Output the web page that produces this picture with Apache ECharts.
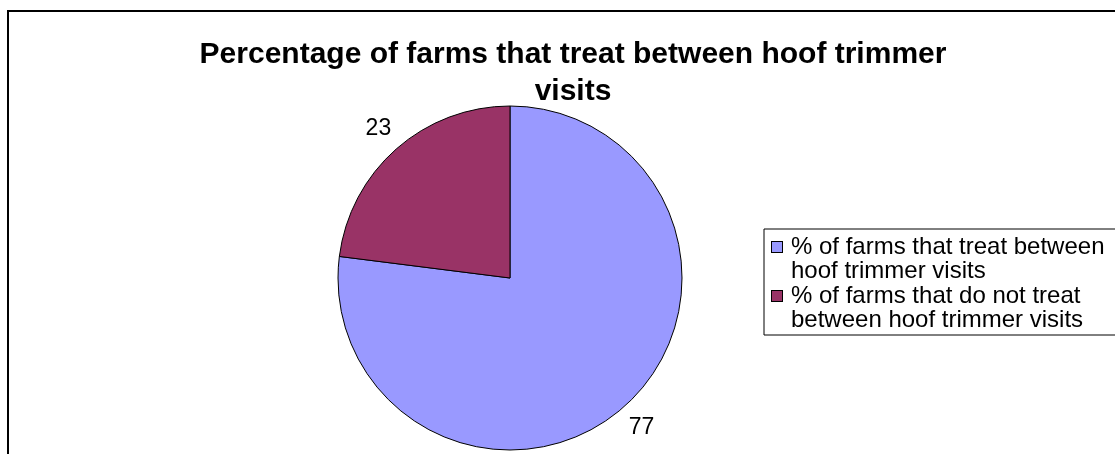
<!DOCTYPE html>
<html>
<head>
<meta charset="utf-8">
<script src="https://cdn.jsdelivr.net/npm/echarts@6/dist/echarts.min.js"></script>
<style>
  html, body { margin: 0; padding: 0; background: #fff; }
  #chart { width: 1115px; height: 454px; }
</style>
</head>
<body>
<div id="chart"></div>
<script>
const titleLines = ['Percentage of farms that treat between hoof trimmer', 'visits'];
const categories = ['% of farms that treat between hoof trimmer visits', '% of farms that do not treat between hoof trimmer visits'];
const legendLines = [['% of farms that treat between', 'hoof trimmer visits'], ['% of farms that do not treat', 'between hoof trimmer visits']];
const values = [77, 23];
const colors = ['#9999FF', '#993366'];

const chart = echarts.init(document.getElementById('chart'), null, { renderer: 'canvas' });
const FONT = 'Liberation Sans, Arial, sans-serif';

const rich = { sp: { width: 19 } };
colors.forEach((c, i) => {
  rich['m' + i] = { width: 10, height: 10, backgroundColor: c, borderColor: '#000', borderWidth: 1 };
});
rich.g = { width: 9 };

chart.setOption({
  animation: false,
  backgroundColor: '#ffffff',
  color: colors,
  title: {
    text: titleLines.join('\n'),
    left: 568,
    textAlign: 'center',
    top: 31,
    textStyle: { fontFamily: FONT, fontWeight: 'bold', fontSize: 30, lineHeight: 37, color: '#000' }
  },
  legend: {
    orient: 'vertical',
    left: 764,
    top: 229,
    icon: 'none',
    itemWidth: 0,
    itemHeight: 10,
    itemGap: 1,
    padding: [6, 40, 3, 3],
    borderColor: '#000',
    borderWidth: 1,
    selectedMode: false,
    data: categories,
    formatter: function (name) {
      const i = categories.indexOf(name);
      return '{m' + i + '|}{g|}' + legendLines[i][0] + '\n{sp|}' + legendLines[i][1];
    },
    textStyle: { fontFamily: FONT, fontSize: 24, lineHeight: 24, color: '#000', rich: rich }
  },
  graphic: [{
    type: 'rect',
    silent: true,
    shape: { x: 8, y: 11, width: 1300, height: 700 },
    style: { fill: 'none', stroke: '#000', lineWidth: 2 }
  }],
  series: [{
    type: 'pie',
    center: [510, 278],
    radius: 172,
    startAngle: 90,
    clockwise: true,
    avoidLabelOverlap: false,
    data: categories.map((n, i) => ({ name: n, value: values[i] })),
    itemStyle: { borderColor: '#000', borderWidth: 1 },
    label: {
      show: true,
      position: 'outside',
      formatter: '{c}',
      fontFamily: FONT,
      fontSize: 23,
      color: '#000'
    },
    labelLine: { show: true, length: 27, length2: 0, lineStyle: { opacity: 0 } },
    labelLayout: function (p) {
      const pts = p.labelLinePoints;
      if (!pts) return {};
      const e = pts[pts.length - 1];
      return { x: e[0], y: e[1], align: 'center', verticalAlign: 'middle' };
    },
    emphasis: { disabled: true }
  }]
});
</script>
</body>
</html>
